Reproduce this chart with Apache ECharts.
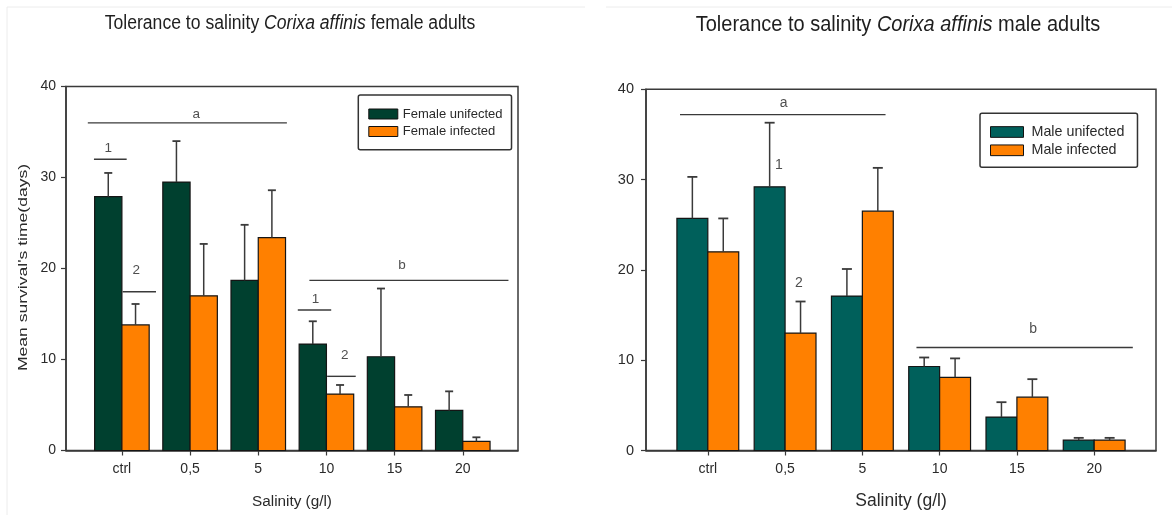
<!DOCTYPE html>
<html>
<head>
<meta charset="utf-8">
<script src="https://cdn.jsdelivr.net/npm/echarts@6/dist/echarts.min.js"></script>
<style>html,body{margin:0;padding:0;background:#fff}#c{width:1172px;height:515px}</style>
</head>
<body>
<div id="c"></div>
<script>
// ---- data ----
const categories = ['ctrl', '0,5', '5', '10', '15', '20'];
const yTicks = [0, 10, 20, 30, 40];

const femaleUninfected    = [27.9, 29.5, 18.7, 11.7, 10.3, 4.4];
const femaleUninfectedErr = [30.5, 34.0, 24.8, 14.2, 17.8, 6.5];
const femaleInfected      = [13.8, 17.0, 23.4, 6.2, 4.8, 1.0];
const femaleInfectedErr   = [16.1, 22.7, 28.6, 7.2, 6.1, 1.45];

const maleUninfected      = [25.7, 29.2, 17.1, 9.3, 3.7, 1.15];
const maleUninfectedErr   = [30.3, 36.3, 20.1, 10.3, 5.35, 1.4];
const maleInfected        = [22.0, 13.0, 26.5, 8.1, 5.9, 1.15];
const maleInfectedErr     = [25.7, 16.5, 31.3, 10.2, 7.9, 1.4];

// significance annotations: [xStart, xEnd, y] in category units
const femaleSigLines  = [[-0.5, 2.42, 36.0], [-0.41, 0.07, 32.0], [0.01, 0.5, 17.45],
                         [2.75, 5.67, 18.7], [2.58, 3.07, 15.44], [3.01, 3.43, 8.15]];
const femaleSigLabels = [[1.09, 36.9, 'a'], [-0.2, 33.2, '1'], [0.21, 19.8, '2'],
                         [4.11, 20.4, 'b'], [2.84, 16.6, '1'], [3.27, 10.5, '2']];
const maleSigLines    = [[-0.36, 2.30, 37.2], [2.70, 5.50, 11.4]];
const maleSigLabels   = [[0.98, 38.5, 'a'], [0.92, 31.6, '1'], [1.18, 18.5, '2'], [4.21, 13.4, 'b']];

// ---- styles ----
const FONT = 'Liberation Sans';
const C_FEM = '#00402f';
const C_MALE = '#00605b';
const C_INF = '#ff8000';
const TXT = '#2a2a2a';
const FRAME = '#3a3a3a';

const idx = categories.map((_, i) => i);

function barSeries(name, gridIdx, vals, errs, color, side, capHalf) {
  return {
    name: name, type: 'custom', xAxisIndex: gridIdx, yAxisIndex: gridIdx,
    itemStyle: { color: color },
    data: vals.map((v, i) => [i, v, errs[i]]),
    renderItem: function (params, api) {
      const i = api.value(0), v = api.value(1), e = api.value(2);
      const x0 = side < 0 ? i - 0.4 : i;
      const x1 = side < 0 ? i : i + 0.4;
      const pTop = api.coord([x0, v]);
      const pBot = api.coord([x1, 0]);
      const pErr = api.coord([(x0 + x1) / 2, e]);
      return {
        type: 'group',
        children: [
          { type: 'rect', shape: { x: pTop[0], y: pTop[1], width: pBot[0] - pTop[0], height: pBot[1] - pTop[1] },
            style: { fill: color, stroke: '#151515', lineWidth: 1.2 } },
          { type: 'line', shape: { x1: pErr[0], y1: pTop[1], x2: pErr[0], y2: pErr[1] },
            style: { stroke: '#3a3a3a', lineWidth: 1.5 } },
          { type: 'line', shape: { x1: pErr[0] - capHalf, y1: pErr[1], x2: pErr[0] + capHalf, y2: pErr[1] },
            style: { stroke: '#3a3a3a', lineWidth: 1.8 } }
        ]
      };
    }
  };
}

function sigLineSeries(gridIdx, lines) {
  return {
    type: 'custom', xAxisIndex: gridIdx, yAxisIndex: gridIdx, silent: true,
    data: lines,
    renderItem: function (params, api) {
      const a = api.coord([api.value(0), api.value(2)]);
      const b = api.coord([api.value(1), api.value(2)]);
      return { type: 'line', shape: { x1: a[0], y1: a[1], x2: b[0], y2: b[1] },
               style: { stroke: '#3a3a3a', lineWidth: 1.4 } };
    }
  };
}

function sigLabelSeries(gridIdx, labels, fs) {
  return {
    type: 'scatter', xAxisIndex: gridIdx, yAxisIndex: gridIdx, silent: true,
    symbolSize: 0,
    data: labels.map(l => ({ name: l[2], value: [l[0], l[1]] })),
    label: { show: true, position: 'inside', formatter: '{b}', color: '#222', fontFamily: FONT, fontSize: fs }
  };
}

function xAxisDef(gridIdx, min, max, labelSize, nameSize, nameGap, labelMargin) {
  return {
    type: 'value', gridIndex: gridIdx, min: min, max: max,
    splitLine: { show: false },
    axisLine: { show: true, onZero: false, lineStyle: { color: FRAME, width: 1.5 } },
    axisTick: { show: true, customValues: idx, length: 5, lineStyle: { color: FRAME, width: 1.2 } },
    axisLabel: { customValues: idx, formatter: v => categories[Math.round(v)],
                 color: TXT, fontFamily: FONT, fontSize: labelSize, margin: labelMargin },
    name: 'Salinity (g/l)', nameLocation: 'middle', nameGap: nameGap,
    nameTextStyle: { color: TXT, fontFamily: FONT, fontSize: nameSize }
  };
}

function yAxisDef(gridIdx, labelSize, margin) {
  return {
    type: 'value', gridIndex: gridIdx, min: yTicks[0], max: yTicks[yTicks.length - 1], interval: 10,
    splitLine: { show: false },
    axisLine: { show: true, onZero: false, lineStyle: { color: FRAME, width: 1.5 } },
    axisTick: { show: true, length: 5, lineStyle: { color: FRAME, width: 1.2 } },
    axisLabel: { color: TXT, fontFamily: FONT, fontSize: labelSize, margin: margin }
  };
}

const chart = echarts.init(document.getElementById('c'), null, { renderer: 'canvas' });

const option = {
  animation: false,
  backgroundColor: '#ffffff',
  grid: [
    { left: 66, top: 86.5, width: 452, height: 364, show: true, borderColor: FRAME, borderWidth: 1.5 },
    { left: 646, top: 89.3, width: 510, height: 365, show: true, borderColor: FRAME, borderWidth: 1.5 }
  ],
  xAxis: [
    xAxisDef(0, -0.82, 5.81, 14, 15.3, 44, 12),
    xAxisDef(1, -0.8, 5.8, 14, 17.5, 41.5, 12)
  ],
  yAxis: [
    yAxisDef(0, 14, 10),
    yAxisDef(1, 14.5, 12)
  ],
  legend: [
    {
      left: 358.3, top: 95, orient: 'vertical',
      padding: [11.5, 9, 10.8, 10],
      borderColor: '#333', borderWidth: 1.5, borderRadius: 2,
      icon: 'rect', itemWidth: 29, itemHeight: 10, itemGap: 2.5,
      textStyle: { color: TXT, fontFamily: FONT, fontSize: 13, lineHeight: 15 },
      data: [
        { name: 'Female unifected', itemStyle: { color: C_FEM, borderColor: '#111', borderWidth: 1 } },
        { name: 'Female infected', itemStyle: { color: C_INF, borderColor: '#111', borderWidth: 1 } }
      ]
    },
    {
      left: 980, top: 113.3, orient: 'vertical',
      padding: [10.7, 13, 9, 10],
      borderColor: '#333', borderWidth: 1.5, borderRadius: 2,
      icon: 'rect', itemWidth: 33, itemHeight: 10.7, itemGap: 2.3,
      textStyle: { color: TXT, fontFamily: FONT, fontSize: 14.3, lineHeight: 16, padding: [0, 0, 0, 3] },
      data: [
        { name: 'Male unifected', itemStyle: { color: C_MALE, borderColor: '#111', borderWidth: 1 } },
        { name: 'Male infected', itemStyle: { color: C_INF, borderColor: '#111', borderWidth: 1 } }
      ]
    }
  ],
  series: [
    barSeries('Female unifected', 0, femaleUninfected, femaleUninfectedErr, C_FEM, -1, 4),
    barSeries('Female infected', 0, femaleInfected, femaleInfectedErr, C_INF, 1, 4),
    barSeries('Male unifected', 1, maleUninfected, maleUninfectedErr, C_MALE, -1, 5),
    barSeries('Male infected', 1, maleInfected, maleInfectedErr, C_INF, 1, 5),
    sigLineSeries(0, femaleSigLines),
    sigLabelSeries(0, femaleSigLabels, 13.5),
    sigLineSeries(1, maleSigLines),
    sigLabelSeries(1, maleSigLabels, 14)
  ],
  graphic: [
    { type: 'line', silent: true, shape: { x1: 7, y1: 7, x2: 585, y2: 7 }, style: { stroke: '#ececec', lineWidth: 1 } },
    { type: 'line', silent: true, shape: { x1: 7, y1: 7, x2: 7, y2: 515 }, style: { stroke: '#ececec', lineWidth: 1 } },
    { type: 'line', silent: true, shape: { x1: 606, y1: 7, x2: 1172, y2: 7 }, style: { stroke: '#ececec', lineWidth: 1 } },
    {
      type: 'text', x: 290, y: 23.5, scaleY: 1.12, silent: true,
      style: {
        text: '{n|Tolerance to salinity }{i|Corixa affinis}{n| female adults}',
        align: 'center', verticalAlign: 'middle',
        rich: {
          n: { fontFamily: FONT, fontSize: 17.6, fill: '#1e1e1e' },
          i: { fontFamily: FONT, fontSize: 17.6, fontStyle: 'italic', fill: '#1e1e1e' }
        }
      }
    },
    {
      type: 'text', x: 898, y: 25, scaleY: 1.08, silent: true,
      style: {
        text: '{n|Tolerance to salinity }{i|Corixa affinis}{n| male adults}',
        align: 'center', verticalAlign: 'middle',
        rich: {
          n: { fontFamily: FONT, fontSize: 20, fill: '#1e1e1e' },
          i: { fontFamily: FONT, fontSize: 20, fontStyle: 'italic', fill: '#1e1e1e' }
        }
      }
    },
    {
      type: 'text', x: 23, y: 267.5, rotation: Math.PI / 2, scaleX: 1.3, silent: true,
      style: {
        text: "Mean survival's time(days)", align: 'center', verticalAlign: 'middle',
        fontFamily: FONT, fontSize: 13.5, fill: TXT
      }
    }
  ]
};

chart.setOption(option);
</script>
</body>
</html>
